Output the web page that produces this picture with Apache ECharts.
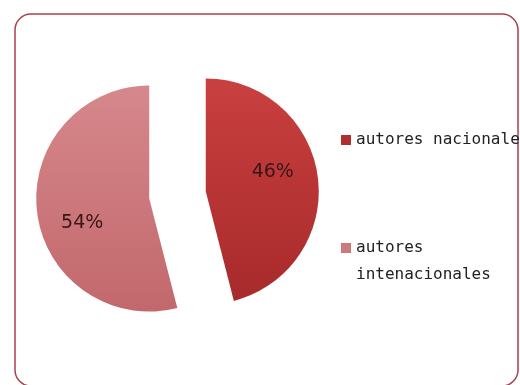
<!DOCTYPE html>
<html>
<head>
<meta charset="utf-8">
<script src="https://cdn.jsdelivr.net/npm/echarts@6/dist/echarts.min.js"></script>
<style>
  html, body { margin: 0; padding: 0; background: #ffffff; }
  #chart { width: 520px; height: 385px; }
</style>
</head>
<body>
<div id="chart"></div>
<script>
// Share of cited authors by origin
const categories = ['autores nacionales', 'autores intenacionales'];
const shares = [46, 54];
const legendLabels = ['autores nacionales', 'autores\nintenacionales'];

const sliceColors = [
  { top: '#c9403f', bottom: '#a82a2b' },
  { top: '#d6888c', bottom: '#c2686c' }
];
// nudges that push each percentage label further out toward the rim
const labelNudges = [[8, -12], [-8, 17]];

const chart = echarts.init(document.getElementById('chart'), null, { renderer: 'canvas' });

const pieData = categories.map((name, i) => ({
  name: name,
  value: shares[i],
  selected: true,
  itemStyle: {
    color: new echarts.graphic.LinearGradient(0, 0, 0, 1, [
      { offset: 0, color: sliceColors[i].top },
      { offset: 1, color: sliceColors[i].bottom }
    ])
  }
}));

const legendText = { fontFamily: 'DejaVu Sans Mono', fontSize: 16, color: '#222222' };

chart.setOption({
  animation: false,
  backgroundColor: '#ffffff',
  graphic: [{
    type: 'rect',
    shape: { x: 15, y: 14, width: 503, height: 372, r: 16 },
    style: { fill: 'none', stroke: '#a8404f', lineWidth: 1.5 },
    silent: true
  }],
  legend: [
    {
      data: [categories[0]],
      orient: 'vertical',
      left: 336,
      top: 127,
      itemWidth: 10,
      itemHeight: 10,
      itemGap: 0,
      icon: 'rect',
      selectedMode: false,
      formatter: () => legendLabels[0],
      textStyle: legendText,
      itemStyle: { color: '#b02e30', borderWidth: 0 }
    },
    {
      data: [categories[1]],
      orient: 'vertical',
      left: 336,
      top: 229.5,
      itemWidth: 10,
      itemHeight: 54,
      itemGap: 0,
      // square sits level with the first text line
      icon: 'path://M0,8.5h10v10h-10z M0,0L0,0 M0,54L0,54',
      selectedMode: false,
      formatter: () => legendLabels[1],
      textStyle: Object.assign({ lineHeight: 27 }, legendText),
      itemStyle: { color: '#cc7a7e', borderWidth: 0 }
    }
  ],
  series: [{
    type: 'pie',
    center: [177.5, 195],
    radius: 113,
    startAngle: 90,
    clockwise: true,
    selectedMode: 'multiple',
    selectedOffset: 28.5,
    avoidLabelOverlap: false,
    emphasis: { disabled: true },
    itemStyle: { borderWidth: 0 },
    label: {
      show: true,
      position: 'inner',
      formatter: '{c}%',
      fontFamily: 'DejaVu Sans',
      fontSize: 19,
      color: '#3a1616'
    },
    labelLayout: (params) => ({
      dx: labelNudges[params.dataIndex][0],
      dy: labelNudges[params.dataIndex][1]
    }),
    labelLine: { show: false },
    data: pieData
  }]
});
</script>
</body>
</html>
